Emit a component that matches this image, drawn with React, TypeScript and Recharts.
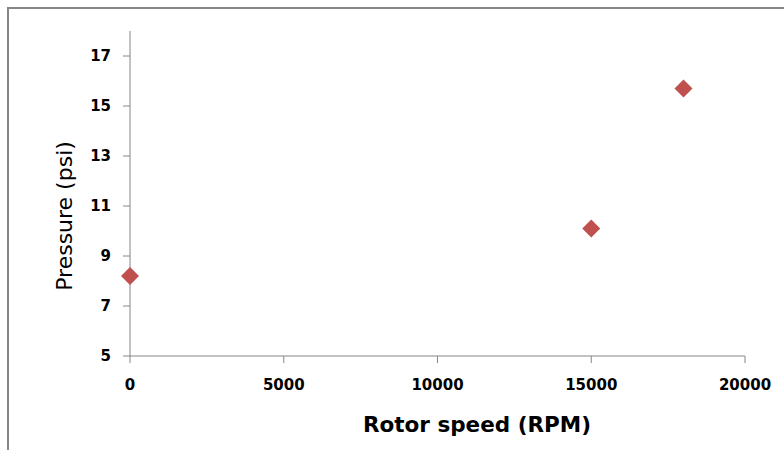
import React from "react";
import { ScatterChart, Scatter, XAxis, YAxis, Label } from "recharts";

const rotorSpeed = [0, 15000, 18000];
const pressure = [8.2, 10.1, 15.7];
const xTicks = [0, 5000, 10000, 15000, 20000];
const yTicks = [5, 7, 9, 11, 13, 15, 17];

const data = rotorSpeed.map((x, i) => ({ x, y: pressure[i] }));

const FONT = "Verdana, 'DejaVu Sans', sans-serif";

const Diamond = (props: any) => {
  const { cx, cy } = props;
  const r = 9;
  return (
    <path
      d={`M${cx},${cy - r} L${cx + r},${cy} L${cx},${cy + r} L${cx - r},${cy} Z`}
      fill="#C0504D"
    />
  );
};

export default function App() {
  return (
    <div style={{ position: "absolute", left: 0, top: 0, width: 784, height: 450, background: "#fff", overflow: "hidden" }}>
      <div
        style={{
          position: "absolute",
          left: 7,
          top: 7,
          width: 900,
          height: 600,
          border: "2px solid #868686",
          boxSizing: "border-box",
        }}
      />
      <div style={{ position: "absolute", left: 0, top: 0 }}>
        <ScatterChart width={784} height={450} margin={{ top: 31, right: 39, bottom: 34, left: 70 }}>
          <XAxis
            type="number"
            dataKey="x"
            domain={[0, 20000]}
            ticks={xTicks}
            interval={0}
            tickSize={7}
            tickMargin={16}
            height={60}
            stroke="#868686"
            tick={{ fill: "#000", fontSize: 15, fontWeight: "bold", fontFamily: FONT }}
          >
            <Label
              content={() => (
                <text x={477} y={432} textAnchor="middle" fontFamily={FONT} fontWeight="bold" fontSize={21.5} fill="#000">
                  Rotor speed (RPM)
                </text>
              )}
            />
          </XAxis>
          <YAxis
            type="number"
            dataKey="y"
            domain={[5, 18]}
            ticks={yTicks}
            interval={0}
            tickSize={7}
            tickMargin={12}
            width={60}
            stroke="#868686"
            tick={{ fill: "#000", fontSize: 15, fontWeight: "bold", fontFamily: FONT }}
          >
            <Label
              content={() => (
                <text
                  x={72}
                  y={216}
                  transform="rotate(-90 72 216)"
                  textAnchor="middle"
                  fontFamily={FONT}
                  fontSize={22}
                  fill="#000"
                >
                  Pressure (psi)
                </text>
              )}
            />
          </YAxis>
          <Scatter data={data} shape={<Diamond />} isAnimationActive={false} />
        </ScatterChart>
      </div>
    </div>
  );
}
